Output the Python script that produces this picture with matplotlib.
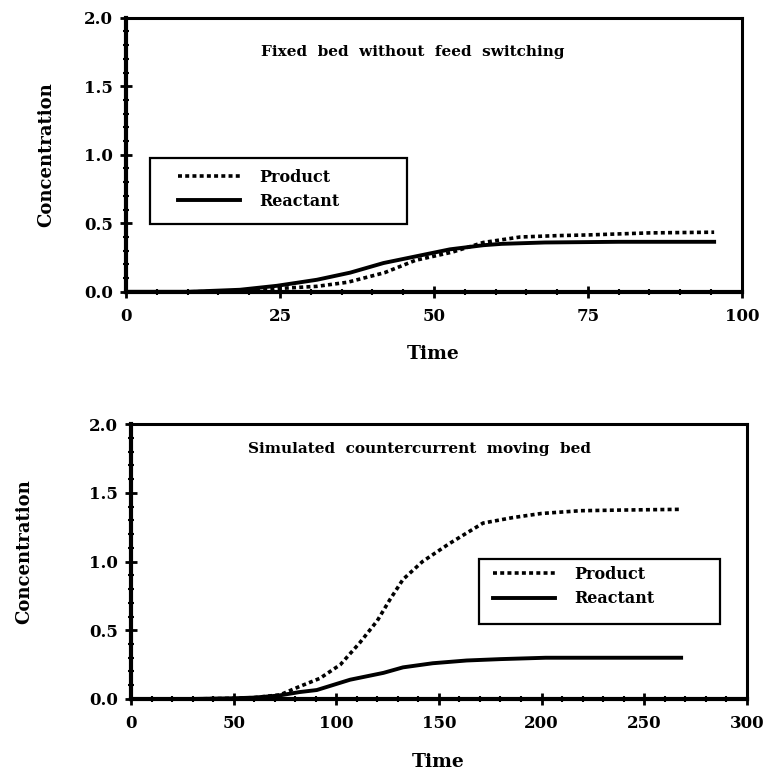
import matplotlib
matplotlib.use("Agg")
import matplotlib.pyplot as plt
from matplotlib.patches import Rectangle
from matplotlib.ticker import MultipleLocator, FormatStrFormatter

# ---- data ----
t1_prod = [0, 10, 20, 25, 31, 36, 42, 47, 53, 58, 61, 64, 70, 75, 85, 95.5]
c1_prod = [0, 0, 0.005, 0.025, 0.04, 0.07, 0.14, 0.23, 0.29, 0.36, 0.38, 0.40, 0.41, 0.415, 0.43, 0.435]
t1_reac = [0, 10, 18.5, 24.5, 31, 36.4, 41.8, 47.2, 52.6, 58, 61, 68, 80, 95.5]
c1_reac = [0, 0, 0.015, 0.044, 0.088, 0.14, 0.21, 0.26, 0.31, 0.34, 0.35, 0.36, 0.365, 0.365]

t2_prod = [0, 30, 50, 60, 72.6, 82, 92, 102, 111.5, 120, 126, 132.5, 142, 155, 171.5, 186, 200, 219, 240, 268]
c2_prod = [0, 0, 0.005, 0.01, 0.03, 0.09, 0.15, 0.25, 0.41, 0.57, 0.72, 0.87, 1.0, 1.13, 1.28, 1.32, 1.35, 1.37, 1.375, 1.38]
t2_reac = [0, 30, 50, 60, 72, 82, 90.5, 106.7, 123, 132.5, 147, 163.5, 180, 202, 240, 268]
c2_reac = [0, 0, 0.005, 0.01, 0.025, 0.05, 0.065, 0.14, 0.19, 0.23, 0.26, 0.28, 0.29, 0.30, 0.30, 0.30]

titles = ["Fixed  bed  without  feed  switching", "Simulated  countercurrent  moving  bed"]
series_names = ["Product", "Reactant"]
xlabel = "Time"
ylabel = "Concentration"

plt.rcParams['font.family'] = ['DejaVu Serif']
plt.rcParams['font.weight'] = 'bold'

fig = plt.figure(figsize=(7.64, 7.72), dpi=100)
ax1 = fig.add_axes([0.165, 0.622, 0.806, 0.355])
ax2 = fig.add_axes([0.1715, 0.0946, 0.806, 0.356])

dot_style = (0, (1.1, 0.9))

def style(ax, xmax, xmaj, xmin, title, tpos, leg_anchor, rect, ylab_x, ylab_y):
    ax.set_xlim(0, xmax)
    ax.set_ylim(0, 2.0)
    ax.xaxis.set_major_locator(MultipleLocator(xmaj))
    ax.xaxis.set_minor_locator(MultipleLocator(xmin))
    ax.yaxis.set_major_locator(MultipleLocator(0.5))
    ax.yaxis.set_minor_locator(MultipleLocator(0.1))
    ax.yaxis.set_major_formatter(FormatStrFormatter('%.1f'))
    for s in ax.spines.values():
        s.set_linewidth(2.2)
    ax.spines['left'].set_linewidth(3)
    ax.spines['bottom'].set_linewidth(3)
    ax.tick_params(which='major', direction='inout', length=9, width=2, labelsize=12, pad=5)
    ax.tick_params(which='minor', direction='inout', length=5, width=1.5)
    ax.tick_params(axis='x', which='major', pad=7)
    for lab in ax.get_xticklabels() + ax.get_yticklabels():
        lab.set_fontweight('bold')
    ax.set_xlabel(xlabel, fontsize=13.5, fontweight='bold')
    ax.set_ylabel(ylabel, fontsize=13, fontweight='bold')
    ax.yaxis.set_label_coords(ylab_x, ylab_y)
    ax.xaxis.set_label_coords(0.498, -0.195)
    ax.text(tpos[0], tpos[1], title, transform=ax.transAxes, ha='center', va='center',
            fontsize=11, fontweight='bold')
    ax.legend(loc='upper left', bbox_to_anchor=leg_anchor, frameon=False,
              borderpad=0, borderaxespad=0, handlelength=3.9, handletextpad=1.2,
              labelspacing=0.45, prop={'size': 11.5, 'weight': 'bold'})
    ax.add_patch(Rectangle((rect[0], rect[1]), rect[2], rect[3], transform=ax.transAxes,
                           fill=False, edgecolor='black', linewidth=1.6, zorder=5))

ax1.plot(t1_prod, c1_prod, color='black', lw=2.6, linestyle=dot_style, label=series_names[0])
ax1.plot(t1_reac, c1_reac, color='black', lw=2.8, label=series_names[1])
style(ax1, 100, 25, 5, titles[0], (0.466, 0.876), (0.0844, 0.449),
      (0.039, 0.248, 0.417, 0.241), -0.115, 0.5)

ax2.plot(t2_prod, c2_prod, color='black', lw=2.6, linestyle=dot_style, label=series_names[0])
ax2.plot(t2_reac, c2_reac, color='black', lw=2.8, label=series_names[1])
style(ax2, 300, 50, 10, titles[1], (0.469, 0.909), (0.588, 0.484),
      (0.565, 0.273, 0.391, 0.236), -0.159, 0.535)

fig.savefig("out.png", dpi=100)
